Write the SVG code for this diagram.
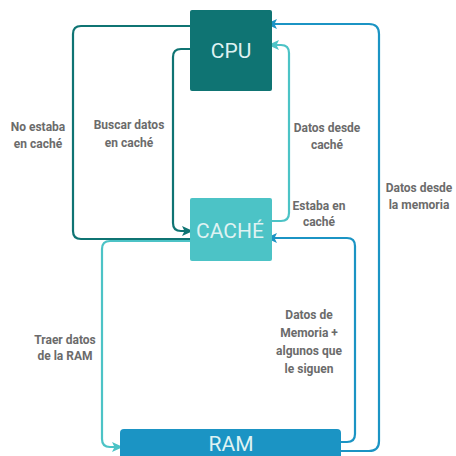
<svg xmlns="http://www.w3.org/2000/svg" width="456" height="456" viewBox="0 0 456 456">
<style>
.lbl{font-family:Roboto,"Liberation Sans",sans-serif;font-weight:bold;font-size:12px;fill:#6b6b6b;text-anchor:middle}
.box{font-family:Roboto,"Liberation Sans",sans-serif;font-size:21px;fill:#dff2f2;text-anchor:middle}
.c{fill:none;stroke-width:2.2;stroke-linejoin:round}
.dk{stroke:#0f7473}.lt{stroke:#4cc3c6}.bl{stroke:#1b94c4}
</style>
<defs>
<marker id="aDk" markerUnits="userSpaceOnUse" markerWidth="12" markerHeight="12" refX="11" refY="5" orient="auto" viewBox="0 0 12 10"><path d="M0,0 L11,5 L0,10 L2.5,5 z" fill="#0f7473"/></marker>
<marker id="aLt" markerUnits="userSpaceOnUse" markerWidth="12" markerHeight="12" refX="11" refY="5" orient="auto" viewBox="0 0 12 10"><path d="M0,0 L11,5 L0,10 L2.5,5 z" fill="#4cc3c6"/></marker>
<marker id="aBl" markerUnits="userSpaceOnUse" markerWidth="12" markerHeight="12" refX="11" refY="5" orient="auto" viewBox="0 0 12 10"><path d="M0,0 L11,5 L0,10 L2.5,5 z" fill="#1b94c4"/></marker>
</defs>
<g id="connectors">
<path class="c dk" d="M190,26 H81 Q73,26 73,34 V231 Q73,239 81,239 H190"/>
<path class="c dk" d="M190,49 H181 Q173,49 173,57 V223 Q173,231 181,231 H193" marker-end="url(#aDk)"/>
<path class="c lt" d="M272,221 H281 Q289,221 289,213 V53 Q289,45 281,45 H268" marker-end="url(#aLt)"/>
<path class="c bl" d="M341,451 H369 Q379,451 379,441 V34 Q379,24 369,24 H266" marker-end="url(#aBl)"/>
<path class="c bl" d="M341,442 H347 Q355,442 355,434 V246 Q355,238 347,238 H266" marker-end="url(#aBl)"/>
<path class="c lt" d="M190,241 H110 Q102,241 102,249 V439 Q102,447 110,447 H123" marker-end="url(#aLt)"/>
</g>
<g id="cpu">
<rect x="190" y="10" width="82" height="81" rx="2" fill="#0f7473"/>
<text class="box" x="231" y="58">CPU</text>
</g>
<g id="cache">
<rect x="190" y="198" width="82" height="63" rx="2" fill="#4cc3c6"/>
<text class="box" x="230" y="238">CACHÉ</text>
</g>
<g id="ram">
<path d="M120,456 V433 Q120,429 124,429 H337 Q341,429 341,433 V456 z" fill="#1b94c4"/>
<text class="box" x="231" y="451">RAM</text>
</g>
<g id="labels">
<text class="lbl" x="38" y="131">No estaba</text>
<text class="lbl" x="38" y="148">en caché</text>
<text class="lbl" x="129" y="129">Buscar datos</text>
<text class="lbl" x="129" y="147">en caché</text>
<text class="lbl" x="327" y="132">Datos desde</text>
<text class="lbl" x="327" y="149">caché</text>
<text class="lbl" x="319" y="210">Estaba en</text>
<text class="lbl" x="319" y="226">caché</text>
<text class="lbl" x="419" y="192">Datos desde</text>
<text class="lbl" x="419" y="209">la memoria</text>
<text class="lbl" x="65" y="344">Traer datos</text>
<text class="lbl" x="65" y="360">de la RAM</text>
<text class="lbl" x="309" y="319">Datos de</text>
<text class="lbl" x="309" y="337">Memoria +</text>
<text class="lbl" x="309" y="355">algunos que</text>
<text class="lbl" x="309" y="373">le siguen</text>
</g>
</svg>
